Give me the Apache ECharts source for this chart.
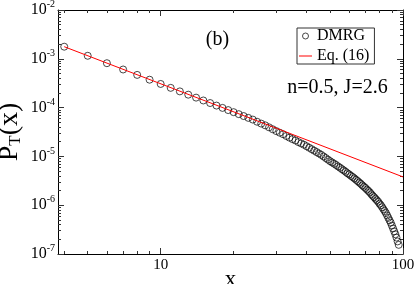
<!DOCTYPE html>
<html><head><meta charset="utf-8">
<script src="https://cdn.jsdelivr.net/npm/echarts@6/dist/echarts.min.js"></script>
<style>html,body{margin:0;padding:0;background:#fff}#c{width:415px;height:284px}</style>
</head><body><div id="c"></div>
<script>
const dmrgX = [4,5,6,7,8,9,10,11,12,13,14,15,16,17,18,19,20,21,22,23,24,25,26,27,28,29,30,31,32,33,34,35,36,37,38,39,40,41,42,43,44,45,46,47,48,49,50,51,52,53,54,55,56,57,58,59,60,61,62,63,64,65,66,67,68,69,70,71,72,73,74,75,76,77,78,79,80,81,82,83,84,85,86,87,88,89,90,91,92,93,94,95,96];
const dmrgY = [
 1.77e-3,1.153e-3,8.13e-4,6.04e-4,4.68e-4,3.73e-4,3.05e-4,2.54e-4,2.15e-4,1.84e-4,
 1.60e-4,1.40e-4,1.24e-4,1.10e-4,9.86e-5,8.89e-5,8.06e-5,7.34e-5,6.71e-5,6.16e-5,
 5.68e-5,5.13e-5,4.70e-5,4.33e-5,3.94e-5,3.60e-5,3.30e-5,3.06e-5,2.85e-5,2.62e-5,
 2.42e-5,2.26e-5,2.12e-5,1.965e-5,1.845e-5,1.736e-5,1.616e-5,1.506e-5,1.405e-5,1.312e-5,
 1.227e-5,1.149e-5,1.076e-5,9.98e-6,9.26e-6,8.60e-6,7.99e-6,7.51e-6,7.07e-6,6.66e-6,
 6.21e-6,5.86e-6,5.47e-6,5.16e-6,4.83e-6,4.51e-6,4.27e-6,3.99e-6,3.78e-6,3.55e-6,
 3.32e-6,3.12e-6,2.92e-6,2.74e-6,2.55e-6,2.39e-6,2.25e-6,2.09e-6,1.96e-6,1.83e-6,
 1.68e-6,1.56e-6,1.46e-6,1.355e-6,1.264e-6,1.176e-6,1.073e-6,1.001e-6,9.12e-7,8.32e-7,
 7.59e-7,6.91e-7,6.17e-7,5.50e-7,4.91e-7,4.38e-7,3.82e-7,3.34e-7,2.91e-7,2.54e-7,
 2.17e-7,1.81e-7,1.54e-7
];
const eqX = [4, 100];
const eqY = [1.77e-3, 3.8e-6];
const xTickValues = [10, 100];
const xTickLabels = ['10', '100'];
const xMinorTicks = [4,5,6,7,8,9,20,30,40,50,60,70,80,90];
const yTickValues = [1e-7,1e-6,1e-5,1e-4,1e-3,1e-2];
const yTickExponents = ['-7','-6','-5','-4','-3','-2'];
const yMinorTicks = [
 2e-7,3e-7,4e-7,5e-7,6e-7,7e-7,8e-7,9e-7,
 2e-6,3e-6,4e-6,5e-6,6e-6,7e-6,8e-6,9e-6,
 2e-5,3e-5,4e-5,5e-5,6e-5,7e-5,8e-5,9e-5,
 2e-4,3e-4,4e-4,5e-4,6e-4,7e-4,8e-4,9e-4,
 2e-3,3e-3,4e-3,5e-3,6e-3,7e-3,8e-3,9e-3
];
const seriesNames = ['DMRG', 'Eq. (16)'];

const FONT = '"Liberation Serif", "Times New Roman", serif';
const black = {color: '#000', width: 1};
const tickStyle = {color: '#333', width: 1};
const XMIN = 3.77, XMAX = 100, YMIN = 1e-7, YMAX = 1e-2;

function idx(arr, v) { return arr.findIndex(t => Math.abs(t - v) / t < 1e-6); }

function xAxisDef(pos, major, withLabel) {
  return {
    type: 'log', min: XMIN, max: XMAX, position: pos,
    axisLine: {show: major, onZero: false, lineStyle: black},
    axisTick: {show: true, inside: true, length: major ? 6 : 3,
      customValues: major ? xTickValues : xMinorTicks, lineStyle: tickStyle},
    axisLabel: withLabel ? {
      show: true, customValues: xTickValues, margin: 4,
      fontFamily: FONT, fontSize: 15, color: '#000',
      formatter: v => { const i = idx(xTickValues, v); return i >= 0 ? xTickLabels[i] : ''; }
    } : {show: false},
    splitLine: {show: false}, minorTick: {show: false},
    name: withLabel ? 'x' : '', nameLocation: 'middle', nameGap: 14, nameMoveOverlap: false,
    nameTextStyle: {fontFamily: FONT, fontSize: 23, color: '#000'}
  };
}
function yAxisDef(pos, major, withLabel) {
  return {
    type: 'log', min: YMIN, max: YMAX, position: pos,
    axisLine: {show: major, onZero: false, lineStyle: black},
    axisTick: {show: true, inside: true, length: major ? 6 : 3,
      customValues: major ? yTickValues : yMinorTicks, lineStyle: tickStyle},
    axisLabel: withLabel ? {
      show: true, customValues: yTickValues, margin: 3,
      formatter: v => { const i = idx(yTickValues, v); return i >= 0 ? '{b|10}{s|' + yTickExponents[i] + '}' : ''; },
      rich: {
        b: {fontFamily: FONT, fontSize: 16, color: '#000'},
        s: {fontFamily: FONT, fontSize: 10, color: '#000', padding: [0, 0, 11, 0]}
      }
    } : {show: false},
    splitLine: {show: false}, minorTick: {show: false},
    name: withLabel ? '{p|P}{t|T}{p|(x)}' : '', nameLocation: 'middle', nameGap: 34, nameMoveOverlap: false,
    nameTextStyle: {
      rich: {
        p: {fontFamily: FONT, fontSize: 28, color: '#000'},
        t: {fontFamily: FONT, fontSize: 17, color: '#000', padding: [12, 0, 0, 0]}
      }
    }
  };
}

const chart = echarts.init(document.getElementById('c'), null, {renderer: 'canvas'});
chart.setOption({
  backgroundColor: '#fff',
  animation: false,
  grid: {left: 58, right: 12, top: 10, bottom: 30, show: false, containLabel: false, outerBoundsMode: 'none'},
  xAxis: [xAxisDef('bottom', true, true), xAxisDef('bottom', false, false),
          xAxisDef('top', true, false), xAxisDef('top', false, false)],
  yAxis: [yAxisDef('left', true, true), yAxisDef('left', false, false),
          yAxisDef('right', true, false), yAxisDef('right', false, false)],
  legend: {
    orient: 'vertical', left: 297, top: 28, align: 'left',
    data: [
      {name: seriesNames[0], icon: 'circle', itemStyle: {color: 'rgba(0,0,0,0)', borderColor: '#000', borderWidth: 0.9}},
      {name: seriesNames[1], icon: 'path://M0,0H13V1H0Z', itemStyle: {color: '#ff0000', borderWidth: 0}}
    ],
    itemWidth: 13, itemHeight: 6, itemGap: 4,
    padding: [0, 5, 0, 2],
    borderColor: '#333', borderWidth: 1, borderRadius: 0,
    textStyle: {fontFamily: FONT, fontSize: 16, color: '#000', lineHeight: 15}
  },
  graphic: [
    {type: 'text', x: 217.5, y: 40, style: {text: '(b)', font: '20px "Liberation Serif"', fill: '#000', align: 'center', verticalAlign: 'middle', textAlign: 'center', textVerticalAlign: 'middle'}},
    {type: 'text', x: 337.5, y: 87.5, style: {text: 'n=0.5, J=2.6', font: '20px "Liberation Serif"', fill: '#000', align: 'center', verticalAlign: 'middle', textAlign: 'center', textVerticalAlign: 'middle'}}
  ],
  series: [
    {
      name: seriesNames[0], type: 'scatter', xAxisIndex: 0, yAxisIndex: 0,
      symbol: 'circle', symbolSize: 7,
      itemStyle: {color: 'rgba(0,0,0,0)', borderColor: '#000', borderWidth: 0.9},
      data: dmrgX.map((x, i) => [x, dmrgY[i]])
    },
    {
      name: seriesNames[1], type: 'line', xAxisIndex: 0, yAxisIndex: 0,
      showSymbol: false, symbol: 'none',
      lineStyle: {color: '#ff0000', width: 1}, itemStyle: {color: '#ff0000'},
      data: eqX.map((x, i) => [x, eqY[i]])
    }
  ]
});
</script></body></html>
